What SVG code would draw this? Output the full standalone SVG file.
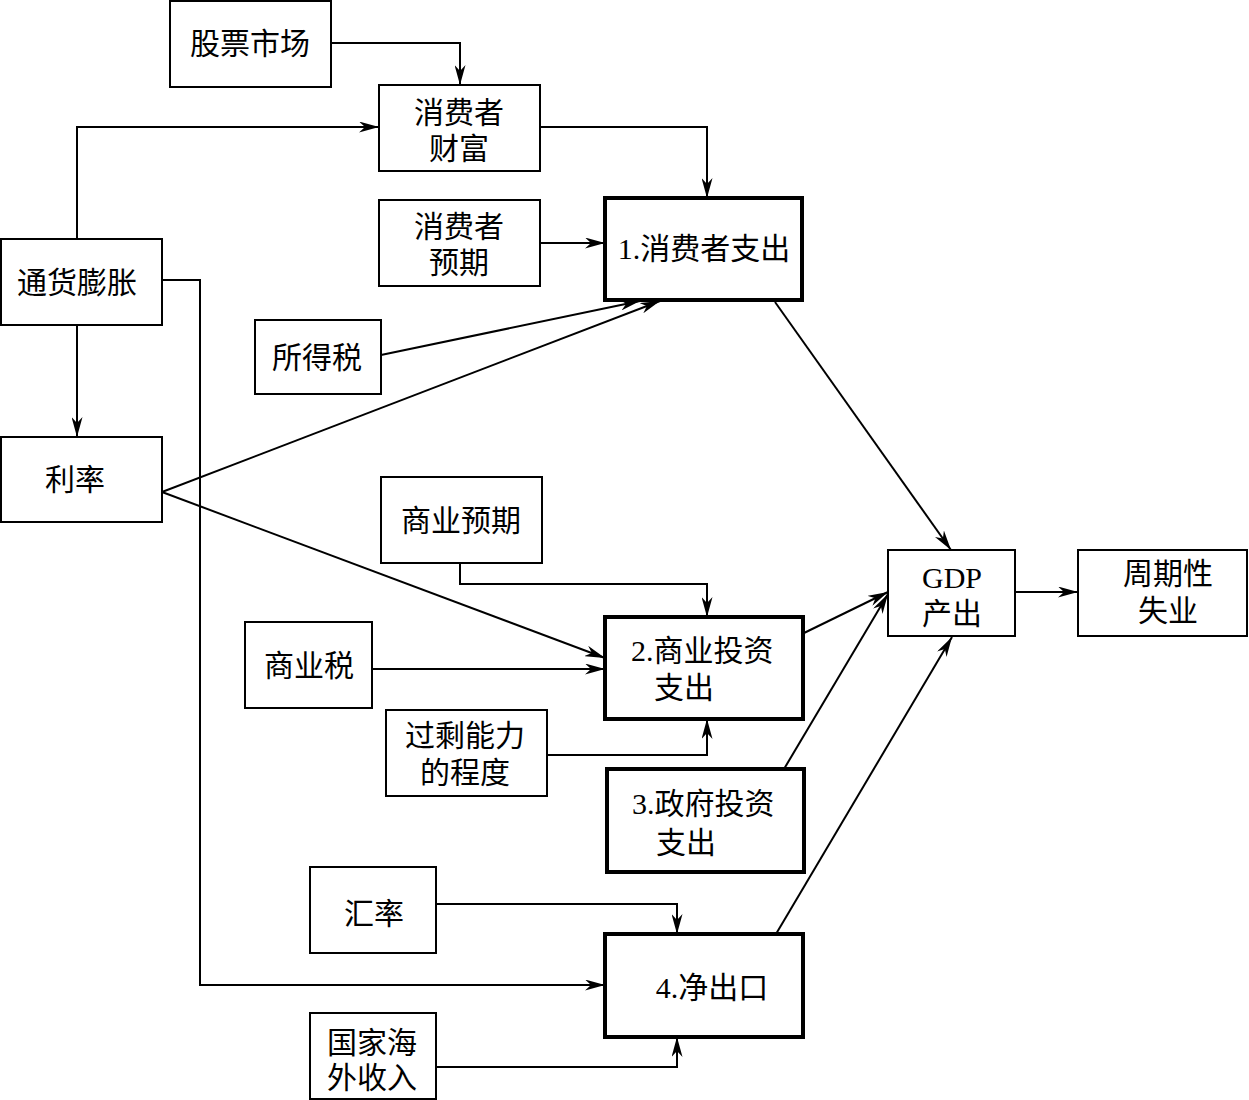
<svg xmlns="http://www.w3.org/2000/svg" width="1249" height="1100" viewBox="0 0 1249 1100">
<style>
.box{fill:#fff;stroke:#000;stroke-width:2}
.tk{fill:#fff;stroke:#000;stroke-width:4}
.t{font-family:"Liberation Serif","Noto Sans CJK SC",serif;font-size:30px;fill:#000;text-anchor:middle;dominant-baseline:central}
.ts{font-family:"Liberation Serif","Noto Sans CJK SC",serif;font-size:30px;fill:#000;dominant-baseline:central}
.c{fill:none;stroke:#000;stroke-width:2;marker-end:url(#ah)}
</style>
<defs>
<marker id="ah" markerUnits="userSpaceOnUse" markerWidth="21" markerHeight="11" refX="20" refY="5.5" orient="auto">
<path d="M0,0 L20,5.5 L0,11 L6,5.5 z" fill="#000"/>
</marker>
</defs>
<rect width="1249" height="1100" fill="#fff"/>
<g id="connectors">
<path class="c" d="M331,43 H460 V85"/>
<path class="c" d="M77,239 V127 H379"/>
<path class="c" d="M540,127 H707 V198"/>
<path class="c" d="M540,243 H605"/>
<path class="c" d="M381,355 L640,301"/>
<path class="c" d="M162,492 L660,301"/>
<path class="c" d="M77,325 V437"/>
<path class="c" d="M162,280 H200 V985 H605"/>
<path class="c" d="M162,492 L605,658"/>
<path class="c" d="M460,563 V584 H707 V617"/>
<path class="c" d="M372,669 H605"/>
<path class="c" d="M547,755 H707 V719"/>
<path class="c" d="M775,302 L951,550"/>
<path class="c" d="M804,633 L888,592"/>
<path class="c" d="M784,769 L888,594"/>
<path class="c" d="M776,934 L952,637"/>
<path class="c" d="M1015,592 H1078"/>
<path class="c" d="M436,904 H677 V934"/>
<path class="c" d="M436,1067 H677 V1037"/>
</g>
<g id="n-stock"><rect class="box" x="170" y="1" width="161" height="86"/><text class="t" x="250" y="43">股票市场</text></g>
<g id="n-wealth"><rect class="box" x="379" y="85" width="161" height="86"/><text class="t" x="459" y="112">消费者</text><text class="t" x="459" y="148">财富</text></g>
<g id="n-cexp"><rect class="box" x="379" y="200" width="161" height="86"/><text class="t" x="459" y="226">消费者</text><text class="t" x="459" y="262">预期</text></g>
<g id="n-cons"><rect class="tk" x="605" y="198" width="197" height="102"/><text class="t" x="704" y="248">1.消费者支出</text></g>
<g id="n-infl"><rect class="box" x="1" y="239" width="161" height="86"/><text class="t" x="77" y="282">通货膨胀</text></g>
<g id="n-itax"><rect class="box" x="255" y="320" width="126" height="74"/><text class="t" x="317" y="357">所得税</text></g>
<g id="n-rate"><rect class="box" x="1" y="437" width="161" height="85"/><text class="t" x="75" y="479">利率</text></g>
<g id="n-bexp"><rect class="box" x="381" y="477" width="161" height="86"/><text class="t" x="461" y="520">商业预期</text></g>
<g id="n-btax"><rect class="box" x="245" y="622" width="127" height="86"/><text class="t" x="309" y="665">商业税</text></g>
<g id="n-cap"><rect class="box" x="386" y="710" width="161" height="86"/><text class="t" x="465" y="735">过剩能力</text><text class="t" x="465" y="772">的程度</text></g>
<g id="n-inv"><rect class="tk" x="605" y="617" width="198" height="102"/><text class="ts" x="631" y="650">2.商业投资</text><text class="ts" x="654" y="687">支出</text></g>
<g id="n-gov"><rect class="tk" x="607" y="769" width="197" height="103"/><text class="ts" x="632" y="803">3.政府投资</text><text class="ts" x="656" y="842">支出</text></g>
<g id="n-gdp"><rect class="box" x="888" y="550" width="127" height="86"/><text class="t" x="952" y="577">GDP</text><text class="t" x="952" y="613">产出</text></g>
<g id="n-unemp"><rect class="box" x="1078" y="550" width="169" height="86"/><text class="t" x="1168" y="573">周期性</text><text class="t" x="1168" y="610">失业</text></g>
<g id="n-fx"><rect class="box" x="310" y="867" width="126" height="86"/><text class="t" x="374" y="913">汇率</text></g>
<g id="n-nx"><rect class="tk" x="605" y="934" width="198" height="103"/><text class="t" x="712" y="987">4.净出口</text></g>
<g id="n-forinc"><rect class="box" x="310" y="1013" width="126" height="86"/><text class="t" x="372" y="1042">国家海</text><text class="t" x="372" y="1077">外收入</text></g>
</svg>
